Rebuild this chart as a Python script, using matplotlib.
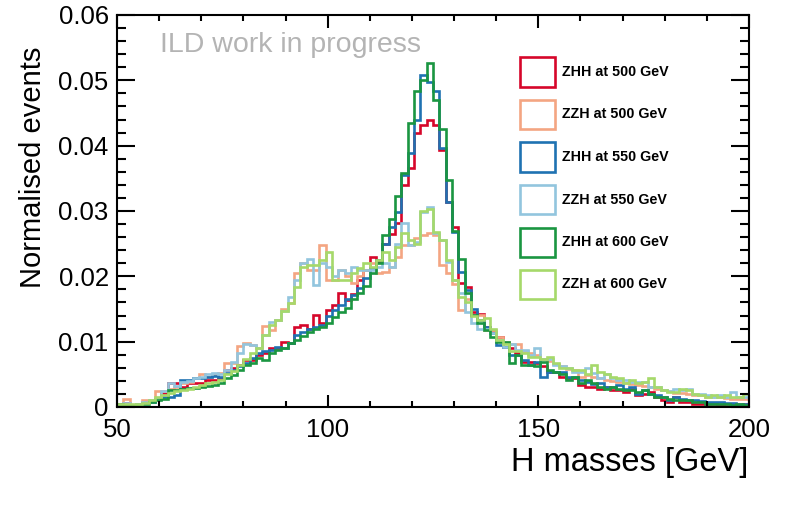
import numpy as np
import matplotlib
matplotlib.use("Agg")
import matplotlib.pyplot as plt
from matplotlib.patches import Rectangle
from matplotlib.ticker import MultipleLocator

plt.rcParams['font.family'] = ['Liberation Sans', 'DejaVu Sans']

# ---- data: 100 bins between 50 and 200 GeV ----
x_min, x_max, n_bins = 50.0, 200.0, 100

zhh_500 = [0.0005, 0.0006, 0.0003, 0.0004, 0.0008, 0.0009, 0.0012, 0.0022, 0.0037, 0.0036,
           0.0031, 0.0036, 0.0036, 0.0037, 0.0041, 0.0042, 0.0044, 0.0057, 0.0060, 0.0065,
           0.0072, 0.0072, 0.0080, 0.0082, 0.0090, 0.0091, 0.0100, 0.0098, 0.0123, 0.0125,
           0.0120, 0.0141, 0.0128, 0.0149, 0.0156, 0.0175, 0.0164, 0.0173, 0.0194, 0.0210,
           0.0229, 0.0222, 0.0250, 0.0265, 0.0281, 0.0340, 0.0366, 0.0420, 0.0432, 0.0439,
           0.0432, 0.0393, 0.0314, 0.0276, 0.0190, 0.0184, 0.0146, 0.0143, 0.0123, 0.0115,
           0.0107, 0.0092, 0.0090, 0.0082, 0.0069, 0.0069, 0.0067, 0.0062, 0.0054, 0.0054,
           0.0046, 0.0044, 0.0044, 0.0033, 0.0031, 0.0031, 0.0028, 0.0031, 0.0026, 0.0026,
           0.0023, 0.0028, 0.0018, 0.0020, 0.0023, 0.0015, 0.0010, 0.0008, 0.0015, 0.0008,
           0.0008, 0.0005, 0.0005, 0.0005, 0.0005, 0.0003, 0.0005, 0.0003, 0.0003, 0.0005]

zzh_500 = [0.0005, 0.0013, 0.0003, 0.0004, 0.0010, 0.0009, 0.0024, 0.0025, 0.0027, 0.0030,
           0.0036, 0.0038, 0.0044, 0.0050, 0.0046, 0.0050, 0.0052, 0.0067, 0.0067, 0.0093,
           0.0098, 0.0095, 0.0090, 0.0124, 0.0118, 0.0133, 0.0150, 0.0159, 0.0205, 0.0220,
           0.0210, 0.0210, 0.0248, 0.0194, 0.0194, 0.0210, 0.0200, 0.0190, 0.0200, 0.0210,
           0.0220, 0.0205, 0.0207, 0.0215, 0.0229, 0.0248, 0.0248, 0.0259, 0.0263, 0.0266,
           0.0263, 0.0217, 0.0205, 0.0189, 0.0149, 0.0165, 0.0141, 0.0141, 0.0118, 0.0118,
           0.0107, 0.0100, 0.0097, 0.0097, 0.0085, 0.0082, 0.0080, 0.0074, 0.0070, 0.0066,
           0.0062, 0.0058, 0.0056, 0.0046, 0.0049, 0.0046, 0.0044, 0.0042, 0.0040, 0.0038,
           0.0036, 0.0035, 0.0033, 0.0032, 0.0030, 0.0028, 0.0026, 0.0024, 0.0022, 0.0022,
           0.0020, 0.0019, 0.0018, 0.0016, 0.0015, 0.0015, 0.0014, 0.0013, 0.0013, 0.0012]

zhh_550 = [0.0005, 0.0003, 0.0003, 0.0004, 0.0006, 0.0008, 0.0012, 0.0016, 0.0016, 0.0018,
           0.0041, 0.0042, 0.0044, 0.0044, 0.0046, 0.0047, 0.0046, 0.0052, 0.0057, 0.0062,
           0.0067, 0.0075, 0.0082, 0.0086, 0.0088, 0.0092, 0.0090, 0.0098, 0.0110, 0.0115,
           0.0120, 0.0122, 0.0125, 0.0140, 0.0148, 0.0156, 0.0165, 0.0172, 0.0182, 0.0198,
           0.0212, 0.0225, 0.0250, 0.0275, 0.0298, 0.0355, 0.0389, 0.0440, 0.0508, 0.0498,
           0.0483, 0.0396, 0.0314, 0.0268, 0.0207, 0.0179, 0.0150, 0.0133, 0.0123, 0.0113,
           0.0095, 0.0092, 0.0079, 0.0079, 0.0072, 0.0064, 0.0069, 0.0046, 0.0054, 0.0054,
           0.0054, 0.0046, 0.0046, 0.0041, 0.0038, 0.0035, 0.0036, 0.0031, 0.0031, 0.0033,
           0.0028, 0.0031, 0.0020, 0.0026, 0.0020, 0.0018, 0.0015, 0.0010, 0.0015, 0.0012,
           0.0010, 0.0010, 0.0009, 0.0008, 0.0008, 0.0007, 0.0006, 0.0006, 0.0005, 0.0005]

zzh_550 = [0.0004, 0.0006, 0.0003, 0.0005, 0.0007, 0.0011, 0.0013, 0.0024, 0.0036, 0.0032,
           0.0039, 0.0040, 0.0044, 0.0046, 0.0051, 0.0052, 0.0050, 0.0057, 0.0069, 0.0083,
           0.0097, 0.0095, 0.0090, 0.0110, 0.0130, 0.0133, 0.0147, 0.0169, 0.0194, 0.0220,
           0.0226, 0.0187, 0.0220, 0.0215, 0.0200, 0.0210, 0.0205, 0.0215, 0.0210, 0.0210,
           0.0210, 0.0215, 0.0220, 0.0215, 0.0250, 0.0281, 0.0248, 0.0252, 0.0298, 0.0306,
           0.0266, 0.0255, 0.0222, 0.0194, 0.0174, 0.0146, 0.0128, 0.0119, 0.0120, 0.0113,
           0.0102, 0.0092, 0.0097, 0.0087, 0.0087, 0.0079, 0.0090, 0.0074, 0.0074, 0.0064,
           0.0062, 0.0060, 0.0054, 0.0054, 0.0059, 0.0052, 0.0044, 0.0051, 0.0044, 0.0041,
           0.0041, 0.0038, 0.0038, 0.0038, 0.0031, 0.0031, 0.0026, 0.0025, 0.0028, 0.0026,
           0.0028, 0.0020, 0.0020, 0.0018, 0.0015, 0.0018, 0.0015, 0.0023, 0.0015, 0.0015]

zhh_600 = [0.0004, 0.0003, 0.0002, 0.0003, 0.0005, 0.0007, 0.0010, 0.0013, 0.0026, 0.0026,
           0.0027, 0.0029, 0.0029, 0.0031, 0.0032, 0.0033, 0.0037, 0.0045, 0.0049, 0.0057,
           0.0064, 0.0068, 0.0075, 0.0072, 0.0082, 0.0088, 0.0090, 0.0098, 0.0102, 0.0108,
           0.0115, 0.0120, 0.0122, 0.0128, 0.0138, 0.0146, 0.0152, 0.0165, 0.0175, 0.0185,
           0.0205, 0.0220, 0.0263, 0.0288, 0.0323, 0.0358, 0.0435, 0.0484, 0.0500, 0.0527,
           0.0470, 0.0425, 0.0347, 0.0270, 0.0226, 0.0174, 0.0141, 0.0128, 0.0118, 0.0107,
           0.0100, 0.0100, 0.0067, 0.0079, 0.0064, 0.0064, 0.0062, 0.0069, 0.0056, 0.0054,
           0.0051, 0.0041, 0.0046, 0.0036, 0.0041, 0.0036, 0.0031, 0.0028, 0.0031, 0.0028,
           0.0026, 0.0026, 0.0023, 0.0026, 0.0020, 0.0015, 0.0015, 0.0013, 0.0010, 0.0010,
           0.0010, 0.0008, 0.0008, 0.0005, 0.0005, 0.0005, 0.0005, 0.0003, 0.0005, 0.0003]

zzh_600 = [0.0004, 0.0005, 0.0004, 0.0005, 0.0006, 0.0010, 0.0016, 0.0018, 0.0021, 0.0024,
           0.0026, 0.0027, 0.0030, 0.0033, 0.0036, 0.0039, 0.0041, 0.0050, 0.0055, 0.0065,
           0.0074, 0.0082, 0.0090, 0.0110, 0.0125, 0.0133, 0.0147, 0.0159, 0.0184, 0.0215,
           0.0218, 0.0218, 0.0225, 0.0238, 0.0194, 0.0194, 0.0194, 0.0205, 0.0212, 0.0220,
           0.0215, 0.0225, 0.0238, 0.0225, 0.0245, 0.0266, 0.0255, 0.0250, 0.0300, 0.0303,
           0.0268, 0.0255, 0.0225, 0.0194, 0.0169, 0.0160, 0.0140, 0.0133, 0.0136, 0.0120,
           0.0102, 0.0097, 0.0085, 0.0085, 0.0082, 0.0077, 0.0077, 0.0074, 0.0077, 0.0067,
           0.0059, 0.0059, 0.0056, 0.0056, 0.0051, 0.0064, 0.0054, 0.0051, 0.0046, 0.0044,
           0.0036, 0.0041, 0.0036, 0.0038, 0.0044, 0.0031, 0.0026, 0.0023, 0.0023, 0.0028,
           0.0026, 0.0020, 0.0018, 0.0015, 0.0018, 0.0015, 0.0018, 0.0015, 0.0015, 0.0020]

labels = ["ZHH at 500 GeV", "ZZH at 500 GeV", "ZHH at 550 GeV",
          "ZZH at 550 GeV", "ZHH at 600 GeV", "ZZH at 600 GeV"]
series = [zhh_500, zzh_500, zhh_550, zzh_550, zhh_600, zzh_600]
colors = ["#d6062a", "#f4a582", "#1f72b2", "#92c5de", "#1a9641", "#a6d96a"]

x_label = "H masses [GeV]"
y_label = "Normalised events"
watermark = "ILD work in progress"

# ---- figure ----
W, H = 789, 509
fig = plt.figure(figsize=(W / 100, H / 100), dpi=100)
ax = fig.add_axes([117 / W, 1 - 407 / H, (749 - 117) / W, (407 - 15) / H])

edges = np.linspace(x_min, x_max, n_bins + 1)
for vals, col in zip(series, colors):
    ax.stairs(vals, edges, color=col, linewidth=1.9, baseline=None)

ax.set_xlim(x_min, x_max)
ax.set_ylim(0, 0.06)

ax.xaxis.set_major_locator(MultipleLocator(50))
ax.xaxis.set_minor_locator(MultipleLocator(10))
ax.yaxis.set_major_locator(MultipleLocator(0.01))
ax.yaxis.set_minor_locator(MultipleLocator(0.002))
ax.yaxis.set_major_formatter(matplotlib.ticker.FuncFormatter(
    lambda v, p: "0" if abs(v) < 1e-9 else f"{v:.2f}"))

ax.tick_params(axis='both', which='both', direction='in', top=True, right=True,
               width=1.5, labelsize=18.5)
ax.tick_params(axis='x', which='major', length=9, pad=8)
ax.tick_params(axis='x', which='minor', length=4.5)
ax.tick_params(axis='y', which='major', length=13, pad=6)
ax.tick_params(axis='y', which='minor', length=6.5)
for s in ax.spines.values():
    s.set_linewidth(1.5)

# axis titles
fig.text(748 / W, 1 - 462 / H, x_label, ha='right', va='center', fontsize=23.5)
fig.text(33 / W, 1 - 47 / H, y_label, ha='center', va='top', rotation=90, fontsize=21)

# watermark
ax.text((160 - 117) / (749 - 117), (407 - 45) / 392, watermark,
        transform=ax.transAxes, ha='left', va='center', fontsize=20.5, color='#b4b4b4')

# legend (manual)
bx0 = (520 - 117) / 632
bw = 35 / 632
bh = 29 / 392
for k, (lab, col) in enumerate(zip(labels, colors)):
    yc = (407 - (72 + 42.5 * k)) / 392
    ax.add_patch(Rectangle((bx0, yc - bh / 2), bw, bh, transform=ax.transAxes,
                           fill=False, edgecolor=col, linewidth=1.9))
    ax.text((562 - 117) / 632, yc, lab, transform=ax.transAxes, ha='left',
            va='center', fontsize=10.3, fontweight='bold')

fig.savefig("out.png", dpi=100)
